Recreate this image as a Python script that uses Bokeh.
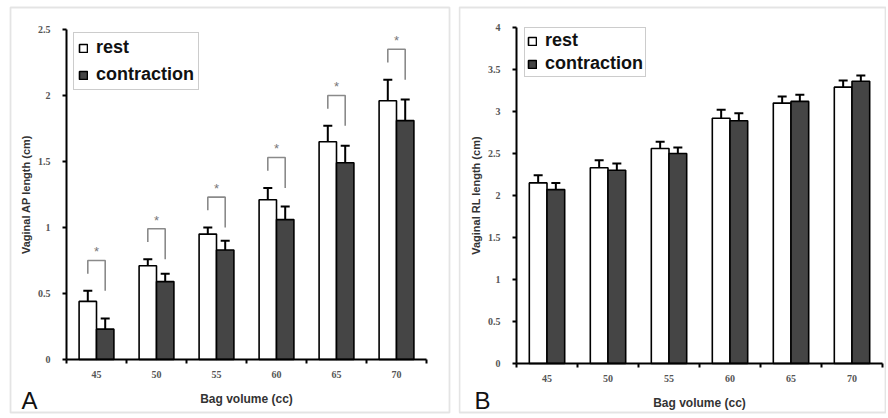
from bokeh.plotting import figure
from bokeh.layouts import row
from bokeh.models import (Range1d, FixedTicker, Whisker, TeeHead, ColumnDataSource,
                          Label, BoxAnnotation)
from bokeh.embed import file_html
from bokeh.resources import INLINE

# ---------------- data ----------------
volumes = ["45", "50", "55", "60", "65", "70"]

ap_rest = [0.44, 0.71, 0.95, 1.21, 1.65, 1.96]
ap_rest_err = [0.08, 0.05, 0.05, 0.09, 0.12, 0.16]
ap_contraction = [0.23, 0.59, 0.83, 1.06, 1.49, 1.81]
ap_contraction_err = [0.08, 0.06, 0.07, 0.10, 0.13, 0.16]
ap_significant = [True, True, True, True, True, True]

rl_rest = [2.15, 2.33, 2.56, 2.92, 3.10, 3.29]
rl_rest_err = [0.09, 0.09, 0.08, 0.10, 0.08, 0.08]
rl_contraction = [2.07, 2.30, 2.50, 2.89, 3.12, 3.36]
rl_contraction_err = [0.08, 0.08, 0.07, 0.09, 0.08, 0.07]
rl_significant = [False, False, False, False, False, False]

ap_yticks = [0, 0.5, 1, 1.5, 2, 2.5]
rl_yticks = [0, 0.5, 1, 1.5, 2, 2.5, 3, 3.5, 4]

x_title = "Bag volume (cc)"
ap_ytitle = "Vaginal AP length (cm)"
rl_ytitle = "Vaginal RL length (cm)"

# ---------------- styling ----------------
BAR_W = 0.29
DARK = "#454545"
TICK_FONT = "Liberation Serif"
SANS = "Liberation Sans"


def panel(rest, rest_err, contr, contr_err, sig, yticks, ytitle, letter,
          W, H, L0, cw, Yt, Yb, border, legend_box, legend_spacing, legend_padding,
          letter_x):
    n = len(volumes)
    ymax = yticks[-1]
    k = (Yb - Yt) / ymax
    centers = [i + 0.5 for i in range(n)]
    x_rest = [c - BAR_W / 2 for c in centers]
    x_con = [c + BAR_W / 2 for c in centers]

    p = figure(width=W, height=H, output_backend="svg", toolbar_location=None,
               x_range=Range1d(-L0 / cw, (W - L0) / cw),
               y_range=Range1d(-(H - Yb) / k, ymax + Yt / k),
               min_border_left=0, min_border_right=0,
               min_border_top=0, min_border_bottom=0,
               background_fill_color="white", border_fill_color="white")
    p.outline_line_color = None
    p.grid.visible = False

    # panel frame (left, right, top, bottom in canvas pixels from top-left)
    bl, br, bt, bb = border
    p.add_layout(BoxAnnotation(left=bl, right=br, bottom=H - bb, top=H - bt,
                               left_units="screen", right_units="screen",
                               bottom_units="screen", top_units="screen",
                               fill_alpha=0, line_color="#a4a4a4", line_width=1.8))

    src_r = ColumnDataSource(dict(x=x_rest, top=rest,
                                  upper=[v + e for v, e in zip(rest, rest_err)]))
    src_c = ColumnDataSource(dict(x=x_con, top=contr,
                                  upper=[v + e for v, e in zip(contr, contr_err)]))

    p.vbar(x="x", top="top", width=BAR_W, source=src_r, fill_color="white",
           line_color="black", line_width=1.6, legend_label="rest")
    p.vbar(x="x", top="top", width=BAR_W, source=src_c, fill_color=DARK,
           line_color="black", line_width=1.6, legend_label="contraction")

    for src in (src_r, src_c):
        w = Whisker(source=src, base="x", lower="top", upper="upper", dimension="height",
                    line_color="black", line_width=2,
                    upper_head=TeeHead(size=9, line_color="black", line_width=2),
                    lower_head=None)
        p.add_layout(w)

    # significance brackets
    xs, ys, sx, sy = [], [], [], []
    for i in range(n):
        if not sig[i]:
            continue
        base = rest[i] + rest_err[i]
        top = base + 0.23
        xs.append([x_rest[i], x_rest[i], x_con[i], x_con[i]])
        ys.append([top - 0.10, top, top, base])
        sx.append(centers[i])
        sy.append(top + 0.065)
    if xs:
        p.multi_line(xs=xs, ys=ys, line_color="#8a8a8a", line_width=1.6)
        p.text(x=sx, y=sy, text=["*"] * len(sx), text_align="center",
               text_baseline="middle", text_font_size="13px", text_color="#777777")

    # x axis
    xa = p.xaxis[0]
    xa.fixed_location = 0
    xa.bounds = (0, n)
    xa.ticker = FixedTicker(ticks=centers, minor_ticks=list(range(n + 1)))
    xa.major_label_overrides = {c: v for c, v in zip(centers, volumes)}
    xa.major_tick_out = 0
    xa.major_tick_in = 0
    xa.minor_tick_out = 4
    xa.minor_tick_in = 0
    xa.minor_tick_line_color = "black"
    xa.minor_tick_line_width = 2
    xa.axis_line_width = 2
    xa.axis_line_color = "black"
    xa.major_label_text_font = TICK_FONT
    xa.major_label_text_font_style = "bold"
    xa.major_label_text_font_size = "10px"
    xa.major_label_text_color = "#555555"
    xa.major_label_standoff = 7
    xa.axis_label = x_title
    xa.axis_label_text_font = SANS
    xa.axis_label_text_font_style = "bold"
    xa.axis_label_text_font_size = "12px"
    xa.axis_label_text_color = "#333333"
    xa.axis_label_standoff = 11

    # y axis
    ya = p.yaxis[0]
    ya.fixed_location = 0
    ya.bounds = (0, ymax)
    ya.ticker = FixedTicker(ticks=yticks)
    ya.major_label_overrides = {t: f"{t:g}" for t in yticks}
    ya.major_tick_out = 4
    ya.major_tick_in = 0
    ya.major_tick_line_width = 2
    ya.axis_line_width = 2
    ya.axis_line_color = "black"
    ya.major_label_text_font = TICK_FONT
    ya.major_label_text_font_style = "bold"
    ya.major_label_text_font_size = "10px"
    ya.major_label_text_color = "#555555"
    ya.major_label_standoff = 12
    ya.axis_label = ytitle
    ya.axis_label_text_font = SANS
    ya.axis_label_text_font_style = "bold"
    ya.axis_label_text_font_size = "11px"
    ya.axis_label_text_color = "#333333"
    ya.axis_label_standoff = 3

    lg = p.legend[0]
    lg.location = (legend_box[0], H - legend_box[1])
    lg.margin = 0
    lg.padding = legend_padding
    lg.spacing = legend_spacing
    lg.glyph_width = 10
    lg.glyph_height = 10
    lg.label_standoff = 8
    lg.label_text_font = SANS
    lg.label_text_font_style = "bold"
    lg.label_text_font_size = "18px"
    lg.label_text_color = "#111111"
    lg.border_line_color = "#9a9a9a"
    lg.border_line_width = 1.5
    lg.background_fill_color = "white"
    lg.background_fill_alpha = 1

    p.add_layout(Label(x=letter_x, y=H - 400, x_units="screen", y_units="screen",
                       text=letter, text_font=SANS, text_font_size="24px",
                       text_color="#111111", text_align="left",
                       text_baseline="middle"))
    return p


H = 416
# panel geometry (canvas pixels): width, height, y-axis x, category width,
# top-tick y, zero y, border box, legend (left, bottom)
p1 = panel(ap_rest, ap_rest_err, ap_contraction, ap_contraction_err, ap_significant,
           ap_yticks, ap_ytitle, "A", 452, H, 66, 60, 29, 359,
           (10, 449, 7, 412), (73, 90), 6, 4, 21)
p2 = panel(rl_rest, rl_rest_err, rl_contraction, rl_contraction_err, rl_significant,
           rl_yticks, rl_ytitle, "B", 428, H, 58, 61, 27, 363,
           (1, 427, 7, 412), (66, 77), 2, 2, 16)

layout = row(p1, p2, spacing=6)
open("out.html", "w").write(file_html(layout, INLINE))
